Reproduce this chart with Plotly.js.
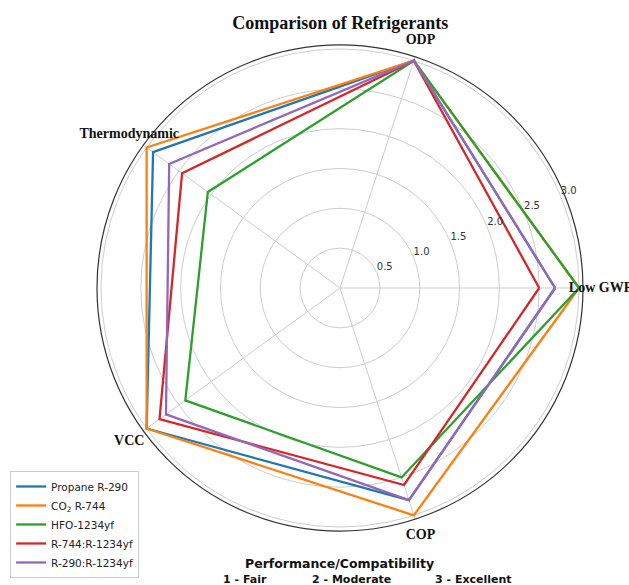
<!DOCTYPE html>
<html>
<head>
<meta charset="utf-8">
<script src="https://cdn.plot.ly/plotly-3.0.1.min.js"></script>
<style>html,body{margin:0;padding:0;background:#fff;}#chart{width:629px;height:585px;}</style>
</head>
<body>
<div id="chart"></div>
<script>
// ---- data ----
const categories = ['Low GWP', 'ODP', 'Thermodynamic', 'VCC', 'COP'];
const seriesNames = ['Propane R-290', 'CO<sub>2</sub> R-744', 'HFO-1234yf', 'R-744:R-1234yf', 'R-290:R-1234yf'];
const propaneR290 = [2.7, 3.0, 2.9, 3.0, 2.8];
const co2R744     = [3.0, 3.0, 3.0, 3.0, 3.0];
const hfo1234yf   = [3.0, 3.0, 2.05, 2.4, 2.5];
const r744Mix     = [2.5, 3.0, 2.45, 2.8, 2.6];
const r290Mix     = [2.7, 3.0, 2.65, 2.7, 2.8];
const radialTicks = [0.5, 1.0, 1.5, 2.0, 2.5, 3.0];
const scaleLabels = ['1 - Fair', '2 - Moderate', '3 - Excellent'];

// ---- styles ----
const colors = ['#1f77b4', '#ff7f0e', '#2ca02c', '#d62728', '#9467bd'];
const allSeries = [propaneR290, co2R744, hfo1234yf, r744Mix, r290Mix];
const rMax = 3.05;
const R1 = 243, R2 = 280;        // pixel radii of the polar subplots
const cx = 340, cyFromBottom = 297;
const labelRadius = 3.27;
const rLabelAngle = 22.5;

function dom(R) {
  return {x: [(cx - R)/629, (cx + R)/629], y: [(cyFromBottom - R)/585, (cyFromBottom + R)/585]};
}

const traces = allSeries.map((vals, i) => ({
  type: 'scatterpolar',
  mode: 'lines',
  r: vals.concat([vals[0]]),
  theta: categories.concat([categories[0]]),
  name: seriesNames[i],
  line: {color: colors[i], width: 2.3},
  hoverinfo: 'skip'
}));

// category labels, on an invisible larger polar subplot sharing the same centre & scale
traces.push({
  type: 'scatterpolar',
  subplot: 'polar2',
  mode: 'text',
  r: categories.map(() => labelRadius),
  theta: categories,
  text: categories.map(c => '<b>' + c + '</b>'),
  textposition: 'middle center',
  textfont: {family: 'Liberation Serif, Times New Roman, serif', size: 14, color: '#111'},
  cliponaxis: false,
  showlegend: false,
  hoverinfo: 'skip'
});

// radial tick labels (horizontal, as in matplotlib), on an invisible overlay polar with the same scale
traces.push({
  type: 'scatterpolar',
  subplot: 'polar3',
  mode: 'text',
  r: radialTicks,
  theta: radialTicks.map(() => rLabelAngle),
  text: radialTicks.map(v => v.toFixed(1)),
  textposition: 'top right',
  textfont: {family: 'DejaVu Sans, sans-serif', size: 10, color: '#333'},
  cliponaxis: false,
  showlegend: false,
  hoverinfo: 'skip'
});

const hiddenRadial = {visible: false, showgrid: false, showline: false, showticklabels: false};

const layout = {
  width: 629, height: 585,
  margin: {l: 0, r: 0, t: 0, b: 0},
  paper_bgcolor: '#fff',
  title: {
    text: '<b>Comparison of Refrigerants</b>',
    font: {family: 'Liberation Serif, Times New Roman, serif', size: 18, color: '#111'},
    x: 0.541, xanchor: 'center', y: 0.962, yanchor: 'middle'
  },
  polar: {
    domain: dom(R1),
    bgcolor: '#fff',
    angularaxis: {
      type: 'category',
      categoryarray: categories,
      rotation: 0,
      direction: 'counterclockwise',
      showticklabels: false,
      ticks: '',
      showline: true,
      linecolor: '#333',
      linewidth: 1.2,
      showgrid: true,
      gridcolor: '#cdcdcd',
      gridwidth: 1
    },
    radialaxis: {
      range: [0, rMax],
      angle: rLabelAngle,
      tickvals: radialTicks,
      showticklabels: false,
      ticks: '',
      showline: false,
      gridcolor: '#cdcdcd',
      gridwidth: 1
    }
  },
  polar2: {
    domain: dom(R2),
    bgcolor: 'rgba(0,0,0,0)',
    angularaxis: {
      type: 'category', categoryarray: categories, rotation: 0, direction: 'counterclockwise',
      showticklabels: false, ticks: '', showline: false, showgrid: false
    },
    radialaxis: Object.assign({range: [0, rMax * R2 / R1]}, hiddenRadial)
  },
  polar3: {
    domain: dom(R1),
    bgcolor: 'rgba(0,0,0,0)',
    angularaxis: {
      type: 'linear', thetaunit: 'degrees', rotation: 0, direction: 'counterclockwise',
      showticklabels: false, ticks: '', showline: false, showgrid: false
    },
    radialaxis: Object.assign({range: [0, rMax]}, hiddenRadial)
  },
  showlegend: true,
  legend: {
    x: 0.016, xanchor: 'left', y: 0.012, yanchor: 'bottom',
    bgcolor: '#fff', bordercolor: '#cccccc', borderwidth: 1,
    font: {family: 'DejaVu Sans, sans-serif', size: 10.5, color: '#222'},
    itemwidth: 30, tracegroupgap: 0
  },
  annotations: [
    {text: '<b>Performance/Compatibility</b>', xref: 'paper', yref: 'paper', x: 0.54, y: 1 - 563/585,
     showarrow: false, xanchor: 'center', yanchor: 'middle',
     font: {family: 'DejaVu Sans, sans-serif', size: 12.5, color: '#111'}},
    {text: '<b>' + scaleLabels[0] + '</b>', xref: 'paper', yref: 'paper', x: 245/629, y: 1 - 579/585,
     showarrow: false, xanchor: 'center', yanchor: 'middle',
     font: {family: 'DejaVu Sans, sans-serif', size: 11, color: '#111'}},
    {text: '<b>' + scaleLabels[1] + '</b>', xref: 'paper', yref: 'paper', x: 351/629, y: 1 - 579/585,
     showarrow: false, xanchor: 'center', yanchor: 'middle',
     font: {family: 'DejaVu Sans, sans-serif', size: 11, color: '#111'}},
    {text: '<b>' + scaleLabels[2] + '</b>', xref: 'paper', yref: 'paper', x: 473/629, y: 1 - 579/585,
     showarrow: false, xanchor: 'center', yanchor: 'middle',
     font: {family: 'DejaVu Sans, sans-serif', size: 11, color: '#111'}}
  ]
};

Plotly.newPlot('chart', traces, layout, {displayModeBar: false, staticPlot: true});
</script>
</body>
</html>
